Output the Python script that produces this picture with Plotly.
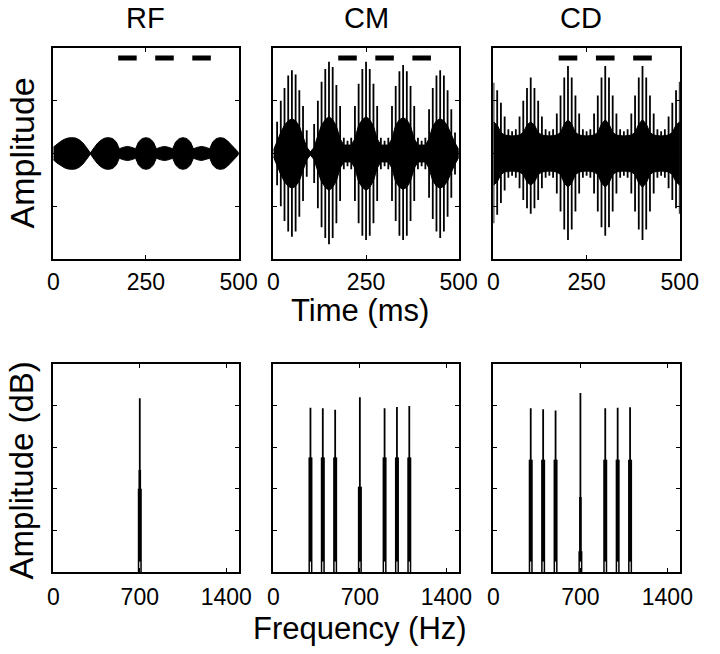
import plotly.graph_objects as go

# ---- data ----
panel_names = ["RF", "CM", "CD"]
time_ticks = [0, 250, 500]
freq_ticks = [0, 700, 1400]

# stimulus marker bars (ms)
bar_start = [175, 275, 375]
bar_end = [225, 325, 425]
bar_level = 0.905

# RF: envelope of the 700 Hz carrier
rf_env_t = [0, 10, 20, 30, 40, 50, 60, 70, 80, 90, 100, 110, 120, 130, 140, 150, 160, 170, 178, 190, 200, 210, 222,
            230, 240, 250, 260, 270, 278, 290, 300, 310, 322, 330, 340, 350, 360, 370, 378, 390, 400, 410, 422,
            430, 440, 450, 460, 470, 480, 490, 500]
rf_env_a = [0.06, 0.09, 0.115, 0.135, 0.147, 0.15, 0.147, 0.13, 0.1, 0.055, 0.005, 0.055, 0.1, 0.13, 0.147, 0.15, 0.142, 0.11, 0.045, 0.06, 0.067, 0.06, 0.045,
            0.11, 0.142, 0.15, 0.142, 0.11, 0.045, 0.06, 0.067, 0.06, 0.045, 0.11, 0.142, 0.15, 0.142, 0.11, 0.045, 0.06, 0.067, 0.06, 0.045,
            0.11, 0.142, 0.15, 0.145, 0.12, 0.085, 0.045, 0.01]

# CM: dense core envelope + 10 ms peaks
cm_env_t = [0, 10, 20, 30, 40, 50, 60, 70, 80, 90, 100, 110, 120, 130, 140, 150, 160, 170, 180, 190, 200, 210, 220,
            230, 240, 250, 260, 270, 280, 290, 300, 310, 320, 330, 340, 350, 360, 370, 380, 390, 400, 410, 420,
            430, 440, 450, 460, 470, 480, 490, 500]
cm_env_a = [0.03, 0.12, 0.2, 0.27, 0.31, 0.33, 0.31, 0.26, 0.16, 0.06, 0.015, 0.06, 0.17, 0.27, 0.32, 0.35, 0.32, 0.26, 0.14, 0.08, 0.08, 0.08, 0.14,
            0.27, 0.32, 0.35, 0.32, 0.26, 0.14, 0.08, 0.08, 0.08, 0.14, 0.27, 0.32, 0.34, 0.32, 0.26, 0.14, 0.08, 0.08, 0.08, 0.14,
            0.26, 0.31, 0.33, 0.31, 0.26, 0.18, 0.1, 0.04]
cm_spike_t = [10, 20, 30, 40, 50, 60, 70, 80, 90,
              110, 120, 130, 140, 150, 160, 170, 180, 190, 200, 210,
              220, 230, 240, 250, 260, 270, 280, 290, 300, 310,
              320, 330, 340, 350, 360, 370, 380, 390, 400, 410,
              420, 430, 440, 450, 460, 470, 480, 490]
cm_spike_hi = [0.3, 0.5, 0.62, 0.74, 0.79, 0.75, 0.6, 0.45, 0.22,
               0.28, 0.5, 0.68, 0.8, 0.87, 0.82, 0.65, 0.45, 0.15, 0.12, 0.15,
               0.45, 0.66, 0.8, 0.87, 0.8, 0.66, 0.45, 0.15, 0.12, 0.15,
               0.45, 0.64, 0.78, 0.84, 0.78, 0.64, 0.45, 0.15, 0.12, 0.15,
               0.42, 0.62, 0.74, 0.79, 0.74, 0.6, 0.42, 0.2]
cm_spike_lo = [-0.3, -0.5, -0.64, -0.74, -0.79, -0.74, -0.6, -0.45, -0.22,
               -0.28, -0.52, -0.7, -0.8, -0.86, -0.8, -0.66, -0.45, -0.15, -0.12, -0.15,
               -0.45, -0.66, -0.78, -0.82, -0.78, -0.66, -0.45, -0.15, -0.12, -0.15,
               -0.45, -0.64, -0.78, -0.82, -0.78, -0.64, -0.45, -0.15, -0.12, -0.15,
               -0.42, -0.62, -0.74, -0.8, -0.74, -0.6, -0.42, -0.2]

# CD: wide core band + peaks at 0,100,...,500 ms
cd_env_t = [0, 10, 20, 30, 40, 50, 60, 70, 80, 90, 100, 110, 120, 130, 140, 150, 160, 170, 180, 190, 200, 210, 220,
            230, 240, 250, 260, 270, 280, 290, 300, 310, 320, 330, 340, 350, 360, 370, 380, 390, 400, 410, 420,
            430, 440, 450, 460, 470, 480, 490, 500]
cd_env_a = [0.3, 0.27, 0.2, 0.175, 0.17, 0.165, 0.17, 0.175, 0.2, 0.27, 0.3, 0.27, 0.2, 0.175, 0.17, 0.165, 0.17, 0.175, 0.2, 0.28, 0.32, 0.28, 0.2,
            0.175, 0.17, 0.165, 0.17, 0.175, 0.2, 0.28, 0.32, 0.28, 0.2, 0.175, 0.17, 0.165, 0.17, 0.175, 0.2, 0.28, 0.32, 0.28, 0.2,
            0.175, 0.17, 0.165, 0.17, 0.175, 0.2, 0.27, 0.3]
cd_spike_t = [0, 10, 20, 30, 40, 50, 60, 70, 80, 90, 100, 110, 120, 130, 140, 150,
              160, 170, 180, 190, 200, 210, 220, 230, 240, 250,
              260, 270, 280, 290, 300, 310, 320, 330, 340, 350,
              360, 370, 380, 390, 400, 410, 420, 430, 440, 450,
              460, 470, 480, 490, 500]
cd_spike_hi = [0.67, 0.6, 0.48, 0.35, 0.23, 0.21, 0.23, 0.35, 0.5, 0.62, 0.72, 0.62, 0.5, 0.35, 0.23, 0.21,
               0.23, 0.38, 0.55, 0.72, 0.83, 0.72, 0.55, 0.38, 0.23, 0.21,
               0.23, 0.38, 0.55, 0.72, 0.83, 0.72, 0.55, 0.38, 0.23, 0.21,
               0.23, 0.38, 0.55, 0.72, 0.83, 0.72, 0.55, 0.38, 0.23, 0.21,
               0.23, 0.35, 0.48, 0.6, 0.68]
cd_spike_lo = [-0.66, -0.58, -0.47, -0.35, -0.23, -0.21, -0.23, -0.33, -0.44, -0.52, -0.57, -0.52, -0.44, -0.33, -0.23, -0.21,
               -0.23, -0.38, -0.55, -0.72, -0.82, -0.72, -0.55, -0.38, -0.23, -0.21,
               -0.23, -0.38, -0.55, -0.7, -0.78, -0.7, -0.55, -0.38, -0.23, -0.21,
               -0.23, -0.38, -0.55, -0.72, -0.82, -0.72, -0.55, -0.38, -0.23, -0.21,
               -0.23, -0.33, -0.44, -0.52, -0.57]

# spectra (Hz, dB on 0-100 scale)
rf_freq = [700]
rf_peak = [83.5]
rf_shoulder = [40]
rf_mid = [49]

cm_freq = [300, 400, 500, 700, 900, 1000, 1100]
cm_peak = [79, 78.7, 78, 84, 78.7, 79.3, 79.8]
cm_shoulder = [55, 55, 55, 41, 55, 55, 55]
cm_mid = [55, 55, 55, 41, 55, 55, 55]

cd_freq = [300, 400, 500, 700, 900, 1000, 1100]
cd_peak = [78.7, 78.2, 77.6, 86, 78.7, 79, 79.2]
cd_shoulder = [54, 54, 54, 10, 54, 54, 54]
cd_mid = [54, 54, 54, 36, 54, 54, 54]

notch_db = 5

# ---- layout (paper fractions) ----
W, H = 720, 654
x_px = [(49, 241), (277, 469), (505, 698)]
top_px = (48, 259)
bot_px = (364, 572)


def xd(p):
    return [p[0] / W, p[1] / W]


def yd(p):
    return [1 - p[1] / H, 1 - p[0] / H]


fig = go.Figure()
BLACK = "black"


def seg_xy(xs, lo, hi):
    X, Y = [], []
    for x, a, b in zip(xs, lo, hi):
        X += [x, x, None]
        Y += [a, b, None]
    return X, Y


def add_wave(i, env_t, env_a, sp_t=None, sp_lo=None, sp_hi=None):
    xa, ya = "x%d" % (i + 1), "y%d" % (i + 1)
    px = env_t + env_t[::-1]
    py = list(env_a) + [-a for a in env_a[::-1]]
    fig.add_trace(go.Scatter(x=px, y=py, fill="toself", fillcolor=BLACK, mode="lines",
                             line=dict(color=BLACK, width=1), xaxis=xa, yaxis=ya, hoverinfo="skip"))
    if sp_t:
        X, Y = seg_xy(sp_t, sp_lo, sp_hi)
        fig.add_trace(go.Scatter(x=X, y=Y, mode="lines", line=dict(color=BLACK, width=1.8),
                                 xaxis=xa, yaxis=ya, hoverinfo="skip"))
    # stimulus bars
    X, Y = [], []
    for s, e in zip(bar_start, bar_end):
        X += [s, e, None]
        Y += [bar_level, bar_level, None]
    fig.add_trace(go.Scatter(x=X, y=Y, mode="lines", line=dict(color=BLACK, width=5),
                             xaxis=xa, yaxis=ya, hoverinfo="skip"))


def add_spec(i, freq, peak, mid, shoulder):
    xa, ya = "x%d" % (i + 4), "y%d" % (i + 4)
    z = [0] * len(freq)
    X, Y = seg_xy(freq, z, peak)
    fig.add_trace(go.Scatter(x=X, y=Y, mode="lines", line=dict(color=BLACK, width=1.8),
                             xaxis=xa, yaxis=ya, hoverinfo="skip"))
    X, Y = seg_xy(freq, z, mid)
    fig.add_trace(go.Scatter(x=X, y=Y, mode="lines", line=dict(color=BLACK, width=2.6),
                             xaxis=xa, yaxis=ya, hoverinfo="skip"))
    X, Y = seg_xy(freq, z, shoulder)
    fig.add_trace(go.Scatter(x=X, y=Y, mode="lines", line=dict(color=BLACK, width=4),
                             xaxis=xa, yaxis=ya, hoverinfo="skip"))
    X, Y = seg_xy(freq, z, [notch_db] * len(freq))
    fig.add_trace(go.Scatter(x=X, y=Y, mode="lines", line=dict(color="white", width=1),
                             xaxis=xa, yaxis=ya, hoverinfo="skip"))


add_wave(0, rf_env_t, rf_env_a)
add_wave(1, cm_env_t, cm_env_a, cm_spike_t, cm_spike_lo, cm_spike_hi)
add_wave(2, cd_env_t, cd_env_a, cd_spike_t, cd_spike_lo, cd_spike_hi)
add_spec(0, rf_freq, rf_peak, rf_mid, rf_shoulder)
add_spec(1, cm_freq, cm_peak, cm_mid, cm_shoulder)
add_spec(2, cd_freq, cd_peak, cd_mid, cd_shoulder)

FONT = "Liberation Sans, Arial, sans-serif"
axis_common = dict(showline=True, mirror="ticks", linecolor=BLACK, linewidth=1.5, ticks="inside",
                   ticklen=4, tickcolor=BLACK, tickwidth=1, showgrid=False, zeroline=False,
                   tickfont=dict(family=FONT, size=23, color=BLACK))
layout = dict(width=W, height=H, margin=dict(l=0, r=0, t=0, b=0), showlegend=False,
              plot_bgcolor="white", paper_bgcolor="white")
for i in range(3):
    n = i + 1
    layout["xaxis%d" % n] = dict(axis_common, domain=xd(x_px[i]), range=[0, 500], tickvals=time_ticks,
                                 ticktext=[str(t) for t in time_ticks], anchor="y%d" % n,
                                 ticklabelstandoff=2)
    layout["yaxis%d" % n] = dict(axis_common, domain=yd(top_px), range=[-1, 1], tickvals=[-0.5, 0, 0.5],
                                 showticklabels=False, anchor="x%d" % n)
    m = i + 4
    layout["xaxis%d" % m] = dict(axis_common, domain=xd(x_px[i]), range=[0, 1500], tickvals=freq_ticks,
                                 ticktext=[str(t) for t in freq_ticks], anchor="y%d" % m,
                                 ticklabelstandoff=4)
    layout["yaxis%d" % m] = dict(axis_common, domain=yd(bot_px), range=[0, 100], tickvals=[20, 40, 60, 80],
                                 showticklabels=False, anchor="x%d" % m)
fig.update_layout(**layout)


def label(text, cx, cy, size, angle=0):
    return dict(text=text, x=cx / W, y=1 - cy / H, xref="paper", yref="paper", showarrow=False,
                xanchor="center", yanchor="middle", textangle=angle,
                font=dict(family=FONT, size=size, color=BLACK))


ann = []
title_x = [145, 373, 596]
for name, cx in zip(panel_names, title_x):
    ann.append(label(name, cx, 18, 29))
ann.append(label("Time (ms)", 367, 310, 31))
ann.append(label("Frequency (Hz)", 367, 628, 31))
ann.append(label("Amplitude", 17, 153, 34, -90))
ann.append(label("Amplitude (dB)", 17, 470, 33, -90))
fig.update_layout(annotations=ann)

# the page body has a default 8px margin; drop it so the figure sits at the window's corner
fig.write_html("out.html", config={"displayModeBar": False},
               post_script="document.body.style.margin='0';document.body.style.overflow='hidden';")
